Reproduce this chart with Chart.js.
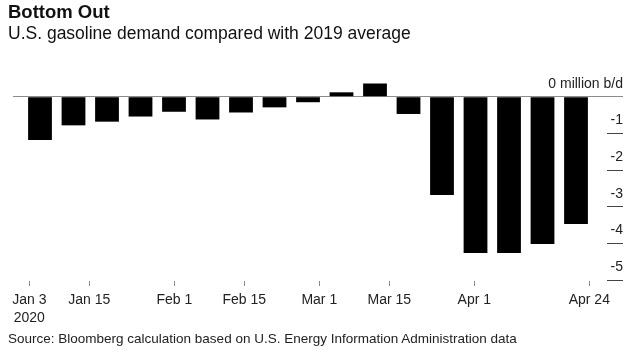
<!DOCTYPE html>
<html>
<head>
<meta charset="utf-8">
<script src="https://cdn.jsdelivr.net/npm/chart.js@4"></script>
<style>
  html, body { margin: 0; padding: 0; background: #fff; }
  body { width: 640px; height: 358px; position: relative; overflow: hidden; font-family: 'Liberation Sans', Arial, sans-serif; color: #111; }
  #wrap { position: absolute; left: 0; top: 0; width: 640px; height: 358px; }
  .title, .subtitle, .source { position: absolute; left: 8px; line-height: 1; white-space: nowrap; }
  .title { top: 3.3px; font-size: 18.5px; font-weight: bold; }
  .subtitle { top: 25.2px; font-size: 17.5px; }
  .source { top: 331.6px; font-size: 13.5px; color: #222; }
</style>
</head>
<body>
<div id="wrap"><canvas id="chart" width="640" height="358"></canvas></div>
<div class="title">Bottom Out</div>
<div class="subtitle">U.S. gasoline demand compared with 2019 average</div>
<div class="source">Source: Bloomberg calculation based on U.S. Energy Information Administration data</div>
<script>
// weekly readings, million b/d vs 2019 average
const weeks = ['Jan 3', 'Jan 10', 'Jan 17', 'Jan 24', 'Jan 31', 'Feb 7', 'Feb 14', 'Feb 21', 'Feb 28',
               'Mar 6', 'Mar 13', 'Mar 20', 'Mar 27', 'Apr 3', 'Apr 10', 'Apr 17', 'Apr 24'];
const demandDiff = [-1.18, -0.78, -0.68, -0.54, -0.41, -0.62, -0.43, -0.29, -0.15,
                    0.12, 0.36, -0.47, -2.68, -4.26, -4.26, -4.01, -3.47];

// date axis ticks (days since Jan 3)
const dateTickDays = [0, 12, 29, 43, 58, 72, 89, 112];
const dateTickLabels = [['Jan 3', '2020'], 'Jan 15', 'Feb 1', 'Feb 15', 'Mar 1', 'Mar 15', 'Apr 1', 'Apr 24'];

const yTicks = [0, -1, -2, -3, -4, -5];
const yUnit = 'million b/d';

const font = { family: "'Liberation Sans', Arial, sans-serif", size: 14 };

new Chart(document.getElementById('chart'), {
    type: 'bar',
    data: {
        datasets: [{
            label: 'Gasoline demand vs 2019',
            data: demandDiff.map((v, i) => ({ x: i, y: v })),
            backgroundColor: '#000',
            borderWidth: 0,
            barPercentage: 0.71,
            categoryPercentage: 1.0,
            xAxisID: 'x'
        }]
    },
    options: {
        responsive: false,
        animation: false,
        layout: { padding: { top: 60, left: 13, right: 17, bottom: 25.6 } },
        plugins: { legend: { display: false }, tooltip: { enabled: false } },
        scales: {
            // week index axis for the bars (hidden)
            x: {
                type: 'linear',
                display: false,
                offset: false,
                grid: { offset: false },
                min: -0.806,
                max: 16.925
            },
            // calendar axis for the labels
            xd: {
                type: 'linear',
                position: 'bottom',
                offset: false,
                min: -3.26,
                max: 115.54,
                afterBuildTicks: axis => { axis.ticks = dateTickDays.map(d => ({ value: d })); },
                afterFit: axis => { axis.paddingLeft = 0; axis.paddingRight = 0; },
                border: { display: false },
                grid: { offset: false, drawOnChartArea: false, drawTicks: true, tickLength: 5, tickColor: '#888' },
                ticks: {
                    font: { ...font, lineHeight: 1.3 },
                    color: '#222',
                    padding: 5,
                    maxRotation: 0,
                    autoSkip: false,
                    callback: (v, i) => dateTickLabels[i]
                }
            },
            y: {
                position: 'right',
                min: -5.02,
                max: 1,
                afterBuildTicks: axis => { axis.ticks = yTicks.map(v => ({ value: v })); },
                afterFit: axis => { axis.width = 16; },
                border: { display: false },
                grid: {
                    drawTicks: true,
                    tickLength: 16,
                    color: ctx => ctx.tick && ctx.tick.value === 0 ? '#8c8c8c' : 'rgba(0,0,0,0)',
                    tickColor: ctx => ctx.tick && ctx.tick.value === 0 ? '#8c8c8c' : '#444'
                },
                ticks: {
                    mirror: true,
                    padding: 16,
                    labelOffset: -13,
                    font: font,
                    color: '#222',
                    callback: v => v === 0 ? '0 ' + yUnit : String(v)
                }
            }
        }
    }
});
</script>
</body>
</html>
